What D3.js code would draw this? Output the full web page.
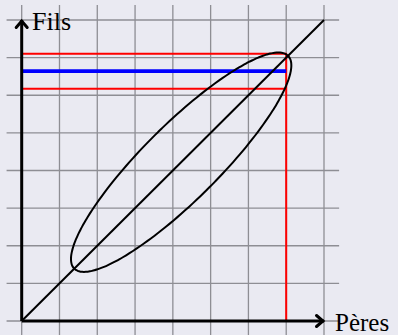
<!DOCTYPE html>
<html>
<head>
<meta charset="utf-8">
<script src="https://cdn.jsdelivr.net/npm/d3@7"></script>
<style>
  html, body { margin: 0; padding: 0; background: #eaeaf2; }
  svg { display: block; }
</style>
</head>
<body>
<svg id="chart" width="398" height="335"></svg>
<script>
// ---- data ----
const gridTicks = [0, 1, 2, 3, 4, 5, 6, 7, 8];
const gridExtent = [-0.4, 8.4];
const axisMax = [8, 8];
const diagonal = [[0, 0], [8, 8]];
const ellipseCenter = [4.22, 4.22];
const ellipseAxes = [4, 1];          // semi-major, semi-minor
const ellipseAngle = [45];           // degrees
const redLevels = [7.1, 6.17];       // horizontal red lines (Fils)
const redX = [7];                    // vertical red line (Pères)
const blueLevel = [6.64];            // blue mean line
const axisLabels = ["Pères", "Fils"];

// ---- drawing ----
const svg = d3.select("#chart");
const W = 398, H = 335;
svg.append("rect").attr("width", W).attr("height", H).attr("fill", "#eaeaf2");

const x = d3.scaleLinear().domain([0, 8]).range([21.7, 324]);
const y = d3.scaleLinear().domain([0, 8]).range([321, 20]);

// grid
const grid = svg.append("g").attr("stroke", "#8e8e94").attr("stroke-width", 1.3);
grid.selectAll("line.v").data(gridTicks).join("line")
  .attr("x1", d => x(d)).attr("x2", d => x(d))
  .attr("y1", y(gridExtent[0])).attr("y2", y(gridExtent[1]));
grid.selectAll("line.h").data(gridTicks).join("line")
  .attr("y1", d => y(d)).attr("y2", d => y(d))
  .attr("x1", x(gridExtent[0])).attr("x2", x(gridExtent[1]));

const line = d3.line().x(d => x(d[0])).y(d => y(d[1]));

// red lines
svg.append("path")
  .attr("d", line([[0, redLevels[0]], [redX[0], redLevels[0]], [redX[0], 0]]))
  .attr("fill", "none").attr("stroke", "#ff0000").attr("stroke-width", 2)
  .attr("stroke-linejoin", "round");
svg.append("path")
  .attr("d", line([[0, redLevels[1]], [redX[0], redLevels[1]]]))
  .attr("fill", "none").attr("stroke", "#ff0000").attr("stroke-width", 2);

// blue line
svg.append("path")
  .attr("d", line([[0, blueLevel[0]], [redX[0], blueLevel[0]]]))
  .attr("fill", "none").attr("stroke", "#0000ff").attr("stroke-width", 3.6);

// diagonal
svg.append("path").attr("d", line(diagonal))
  .attr("fill", "none").attr("stroke", "#000").attr("stroke-width", 2);

// ellipse
const th = ellipseAngle[0] * Math.PI / 180;
const ellPts = d3.range(0, 361, 2).map(deg => {
  const t = deg * Math.PI / 180;
  const u = ellipseAxes[0] * Math.cos(t), v = ellipseAxes[1] * Math.sin(t);
  return [ellipseCenter[0] + u * Math.cos(th) - v * Math.sin(th),
          ellipseCenter[1] + u * Math.sin(th) + v * Math.cos(th)];
});
svg.append("path").attr("d", d3.line().x(d => x(d[0])).y(d => y(d[1])).curve(d3.curveCardinalClosed)(ellPts))
  .attr("fill", "none").attr("stroke", "#000").attr("stroke-width", 2);

// axes
const ax = svg.append("g").attr("fill", "none").attr("stroke", "#000").attr("stroke-width", 3);
ax.append("path").attr("d", line([[0, 0], [axisMax[0], 0]]));
ax.append("path").attr("d", line([[0, 0], [0, axisMax[1]]]));
// arrow heads
const xt = x(axisMax[0]) - 1, y0 = y(0);
ax.append("path").attr("d", `M${xt - 6.5},${y0 - 5.5} L${xt},${y0} L${xt - 6.5},${y0 + 5.5}`)
  .attr("stroke-linejoin", "miter").attr("stroke-linecap", "round");
const yt = y(axisMax[1]) + 1, x0 = x(0);
ax.append("path").attr("d", `M${x0 - 5.5},${yt + 6.5} L${x0},${yt} L${x0 + 5.5},${yt + 6.5}`)
  .attr("stroke-linejoin", "miter").attr("stroke-linecap", "round");

// labels
svg.append("text").attr("x", 335).attr("y", 331)
  .attr("font-family", "Liberation Serif, serif").attr("font-size", 25)
  .attr("fill", "#000").text(axisLabels[0]);
svg.append("text").attr("x", 32).attr("y", 30)
  .attr("font-family", "Liberation Serif, serif").attr("font-size", 26)
  .attr("fill", "#000").text(axisLabels[1]);
</script>
</body>
</html>
